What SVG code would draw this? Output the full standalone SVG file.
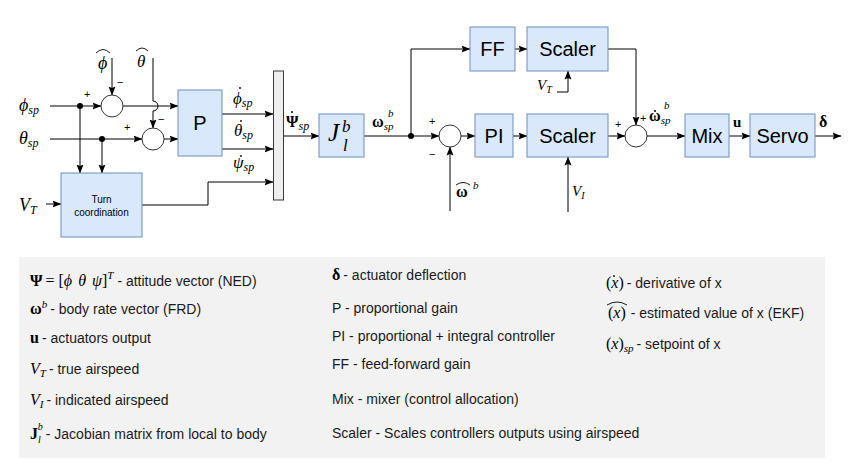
<svg xmlns="http://www.w3.org/2000/svg" width="866" height="472" viewBox="0 0 866 472">
<defs>
<marker id="arr" markerUnits="userSpaceOnUse" markerWidth="9" markerHeight="8" refX="8.5" refY="4" orient="auto">
<path d="M0,0.5 L9,4 L0,7.5 L1.5,4 Z" fill="#000"/>
</marker>
<style>
.box{fill:#dae8fc;stroke:#6c8ebf;stroke-width:1}
.sum{fill:#fff;stroke:#333;stroke-width:1}
.ln{fill:none;stroke:#000;stroke-width:1}
.la{fill:none;stroke:#000;stroke-width:1;marker-end:url(#arr)}
.lbl{font-family:"Liberation Sans",Arial,sans-serif;font-size:20px;fill:#000;text-anchor:middle}
.sm{font-family:"Liberation Sans",Arial,sans-serif;font-size:10px;fill:#000;text-anchor:middle}
.m{font-family:"Liberation Serif","Times New Roman",serif;font-style:italic;fill:#000}
.mu{font-family:"Liberation Serif","Times New Roman",serif;fill:#000}
.mb{font-family:"Liberation Serif","Times New Roman",serif;font-weight:bold;fill:#000}
.sg{font-family:"Liberation Sans",Arial,sans-serif;font-size:11px;fill:#000}
.lg{font-family:"Liberation Sans",Arial,sans-serif;font-size:14px;fill:#1a1a1a}
.acc{fill:none;stroke:#000;stroke-width:0.9}
</style>
</defs>
<rect width="866" height="472" fill="#fff"/>

<!-- legend -->
<g id="legend">
<rect x="19" y="257" width="806" height="201" fill="#f2f2f2"/>
<text x="30" y="286"><tspan class="mb" font-size="16">Ψ</tspan><tspan class="mu" font-size="16" dx="3">=</tspan><tspan class="mu" font-size="16" dx="4">[</tspan><tspan class="m" font-size="16">ϕ</tspan><tspan class="m" font-size="16" dx="6">θ</tspan><tspan class="m" font-size="16" dx="6">ψ</tspan><tspan class="mu" font-size="16">]</tspan><tspan class="m" font-size="11" dy="-7">T</tspan><tspan class="lg" dy="7" dx="4">- attitude vector (NED)</tspan></text>
<text x="30" y="314"><tspan class="mb" font-size="16">ω</tspan><tspan class="m" font-size="11" dy="-6">b</tspan><tspan class="lg" dy="6" dx="3">- body rate vector (FRD)</tspan></text>
<text x="30" y="343"><tspan class="mb" font-size="16">u</tspan><tspan class="lg" dx="3">- actuators output</tspan></text>
<text x="30" y="374"><tspan class="m" font-size="16">V</tspan><tspan class="m" font-size="11" dy="3">T</tspan><tspan class="lg" dy="-3" dx="3">- true airspeed</tspan></text>
<text x="30" y="405"><tspan class="m" font-size="16">V</tspan><tspan class="m" font-size="11" dy="3">I</tspan><tspan class="lg" dy="-3" dx="3">- indicated airspeed</tspan></text>
<text x="30" y="439"><tspan class="mb" font-size="16">J</tspan><tspan class="m" font-size="10" dy="4">l</tspan><tspan class="m" font-size="10" dx="-3" dy="-13">b</tspan><tspan class="lg" dy="9" dx="3">- Jacobian matrix from local to body</tspan></text>

<text x="332" y="280"><tspan class="mb" font-size="16">δ</tspan><tspan class="lg" dx="3">- actuator deflection</tspan></text>
<text class="lg" x="332" y="313">P - proportional gain</text>
<text class="lg" x="332" y="341">PI - proportional + integral controller</text>
<text class="lg" x="332" y="369">FF - feed-forward gain</text>
<text class="lg" x="332" y="404">Mix - mixer (control allocation)</text>
<text class="lg" x="332" y="438">Scaler - Scales controllers outputs using airspeed</text>

<text x="606" y="288"><tspan class="mu" font-size="16">(</tspan><tspan class="m" font-size="16">x</tspan><tspan class="mu" font-size="16">)</tspan><tspan class="lg" dx="3">- derivative of x</tspan></text>
<circle cx="614" cy="276" r="0.9" fill="#000"/>
<text x="608" y="318"><tspan class="mu" font-size="16">(</tspan><tspan class="m" font-size="16">x</tspan><tspan class="mu" font-size="16">)</tspan><tspan class="lg" dx="5">- estimated value of x (EKF)</tspan></text>
<path class="acc" d="M607,305 Q617,299 627,305"/>
<text x="606" y="349"><tspan class="mu" font-size="16">(</tspan><tspan class="m" font-size="16">x</tspan><tspan class="mu" font-size="16">)</tspan><tspan class="m" font-size="11" dy="3">sp</tspan><tspan class="lg" dy="-3" dx="3">- setpoint of x</tspan></text>
</g>

<!-- connectors -->
<g id="connectors">
<line class="la" x1="50" y1="106" x2="101" y2="106"/>
<line class="la" x1="50" y1="139" x2="142" y2="139"/>
<line class="la" x1="80" y1="106" x2="80" y2="173"/>
<line class="la" x1="102" y1="139" x2="102" y2="173"/>
<line class="la" x1="112" y1="58" x2="112" y2="95"/>
<path class="la" d="M153,58 L153,101 A5,5 0 0 1 153,111 L153,128"/>
<line class="la" x1="123" y1="106" x2="178" y2="106"/>
<line class="la" x1="164" y1="139" x2="178" y2="139"/>
<line class="la" x1="222" y1="114" x2="273" y2="114"/>
<line class="la" x1="222" y1="149" x2="273" y2="149"/>
<path class="la" d="M142,205 L208,205 L208,182 L273,182"/>
<line class="la" x1="46" y1="204" x2="61" y2="204"/>
<line class="la" x1="284" y1="136" x2="319" y2="136"/>
<line class="la" x1="364" y1="136" x2="439" y2="136"/>
<path class="la" d="M411,136 L411,49 L470,49"/>
<line class="la" x1="515" y1="49" x2="527" y2="49"/>
<line class="la" x1="461" y1="136" x2="475" y2="136"/>
<line class="la" x1="450" y1="211" x2="450" y2="147"/>
<line class="la" x1="513" y1="136" x2="527" y2="136"/>
<path class="la" d="M557,92 L568,92 L568,71"/>
<line class="la" x1="568" y1="212" x2="568" y2="157"/>
<path class="la" d="M608,49 L636,49 L636,125"/>
<line class="la" x1="608" y1="136" x2="625" y2="136"/>
<line class="la" x1="647" y1="136" x2="685" y2="136"/>
<line class="la" x1="729" y1="136" x2="750" y2="136"/>
<line class="la" x1="815" y1="136" x2="841" y2="136"/>
<circle cx="80" cy="106" r="3" fill="#000"/>
<circle cx="102" cy="139" r="3" fill="#000"/>
<circle cx="411" cy="136" r="3" fill="#000"/>
</g>

<!-- nodes -->
<g id="sum1"><circle class="sum" cx="112" cy="106" r="11"/><text class="sg" x="84" y="98">+</text><text class="sg" x="117" y="86">−</text></g>
<g id="sum2"><circle class="sum" cx="153" cy="139" r="11"/><text class="sg" x="124" y="131">+</text><text class="sg" x="158" y="123">−</text></g>
<g id="sum3"><circle class="sum" cx="450" cy="136" r="11"/><text class="sg" x="429" y="125">+</text><text class="sg" x="429" y="158">−</text></g>
<g id="sum4"><circle class="sum" cx="636" cy="136" r="11"/><text class="sg" x="615" y="128">+</text><text class="sg" x="640" y="122">+</text></g>

<g id="P"><rect class="box" x="178" y="90" width="44" height="66"/><text class="lbl" x="200" y="130">P</text></g>
<g id="turn"><rect class="box" x="61" y="173" width="81" height="64"/><text class="sm" x="101.5" y="203">Turn</text><text class="sm" x="101.5" y="216">coordination</text></g>
<g id="mux"><rect x="273.5" y="71" width="10" height="129" fill="#eeeeee" stroke="#36393d" stroke-width="1"/></g>
<g id="J"><rect class="box" x="319" y="114" width="45" height="43"/><text class="m" x="328" y="141" font-size="25">J</text><text class="m" x="342" y="132" font-size="17">b</text><text class="m" x="343" y="151" font-size="17">l</text></g>
<g id="FF"><rect class="box" x="470" y="27" width="45" height="44"/><text class="lbl" x="492.5" y="56">FF</text></g>
<g id="scaler1"><rect class="box" x="527" y="27" width="81" height="44"/><text class="lbl" x="567.5" y="56">Scaler</text></g>
<g id="PI"><rect class="box" x="475" y="114" width="38" height="43"/><text class="lbl" x="494" y="143">PI</text></g>
<g id="scaler2"><rect class="box" x="527" y="114" width="81" height="43"/><text class="lbl" x="567.5" y="143">Scaler</text></g>
<g id="mix"><rect class="box" x="685" y="114" width="44" height="43"/><text class="lbl" x="707" y="143">Mix</text></g>
<g id="servo"><rect class="box" x="750" y="114" width="65" height="43"/><text class="lbl" x="782.5" y="143">Servo</text></g>

<!-- signal labels -->
<g id="labels">
<text x="19" y="111"><tspan class="m" font-size="18">ϕ</tspan><tspan class="m" font-size="12" dy="3">sp</tspan></text>
<text x="19" y="144"><tspan class="m" font-size="18">θ</tspan><tspan class="m" font-size="12" dy="3">sp</tspan></text>
<text x="19" y="211"><tspan class="m" font-size="18">V</tspan><tspan class="m" font-size="12" dy="3">T</tspan></text>
<text class="m" x="98" y="69" font-size="18">ϕ</text><path class="acc" d="M96,53 Q103,46 110,53"/>
<text class="m" x="137" y="67" font-size="17">θ</text><path class="acc" d="M136,51 Q142,45 148,51"/>
<text x="233" y="104"><tspan class="m" font-size="17">ϕ</tspan><tspan class="m" font-size="12" dy="3">sp</tspan></text><circle cx="240" cy="88" r="0.9" fill="#000"/>
<text x="234" y="136"><tspan class="m" font-size="17">θ</tspan><tspan class="m" font-size="12" dy="3">sp</tspan></text><circle cx="241" cy="121" r="0.9" fill="#000"/>
<text x="233" y="168"><tspan class="m" font-size="17">ψ</tspan><tspan class="m" font-size="12" dy="3">sp</tspan></text><circle cx="241" cy="156" r="0.9" fill="#000"/>
<text x="286" y="127"><tspan class="mb" font-size="16">Ψ</tspan><tspan class="m" font-size="12" dy="3">sp</tspan></text><circle cx="292" cy="112" r="1" fill="#000"/>
<text x="372" y="127"><tspan class="mb" font-size="16">ω</tspan><tspan class="m" font-size="11" dy="3">sp</tspan></text><text class="m" x="388" y="117" font-size="11">b</text>
<text class="mb" x="456" y="197" font-size="16">ω</text><path class="acc" d="M456,185 Q463,180 470,185"/><text class="m" x="473" y="189" font-size="11">b</text>
<text x="537" y="90"><tspan class="m" font-size="15">V</tspan><tspan class="m" font-size="10" dy="3">T</tspan></text>
<text x="572" y="196"><tspan class="m" font-size="15">V</tspan><tspan class="m" font-size="10" dy="3">I</tspan></text>
<text x="649" y="121"><tspan class="mb" font-size="16">ω</tspan><tspan class="m" font-size="11" dy="3">sp</tspan></text><circle cx="655" cy="111" r="1" fill="#000"/><text class="m" x="664" y="109" font-size="11">b</text>
<text class="mb" x="733" y="127" font-size="15">u</text>
<text class="mb" x="819" y="127" font-size="16">δ</text>
</g>
</svg>
